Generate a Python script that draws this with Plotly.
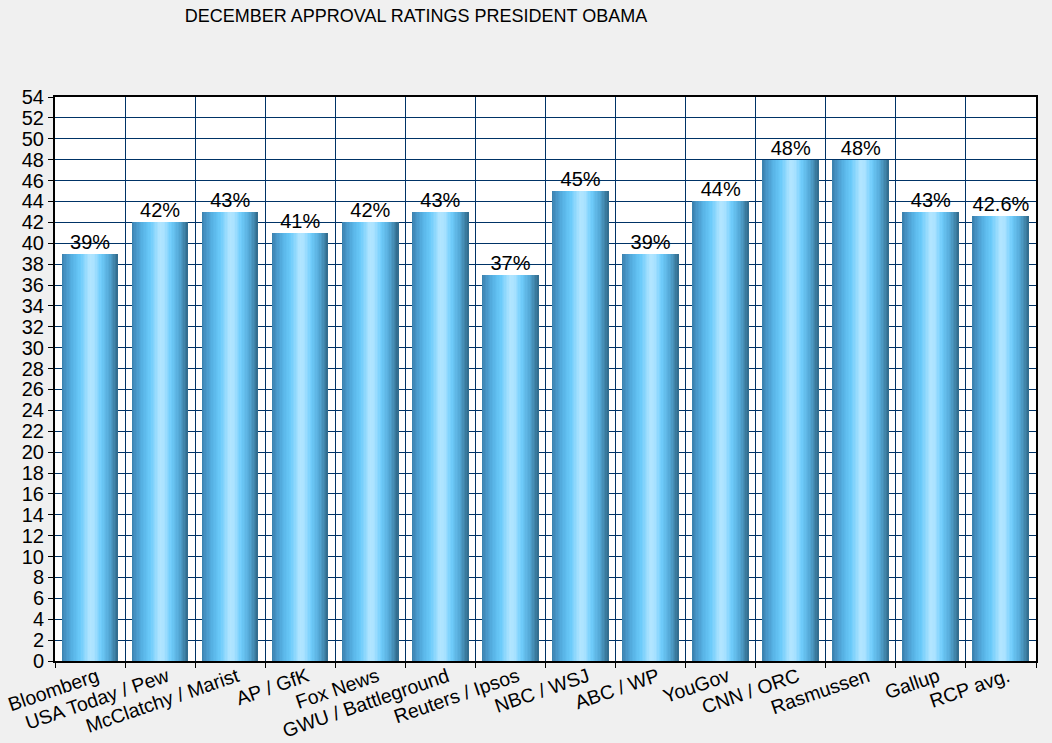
import plotly.graph_objects as go

categories = ["Bloomberg", "USA Today / Pew", "McClatchy / Marist", "AP / GfK", "Fox News",
              "GWU / Battleground", "Reuters / Ipsos", "NBC / WSJ", "ABC / WP", "YouGov",
              "CNN / ORC", "Rasmussen", "Gallup", "RCP avg."]
approval = [39, 42, 43, 41, 42, 43, 37, 45, 39, 44, 48, 48, 43, 42.6]
labels = [f"{v:g}%" for v in approval]
y_ticks = list(range(0, 56, 2))

# horizontal gradient across each bar (left -> right)
grad_stops = [
    (0.00, (58, 128, 172)),
    (0.08, (72, 150, 200)),
    (0.20, (88, 180, 230)),
    (0.33, (106, 202, 250)),
    (0.50, (178, 229, 255)),
    (0.58, (170, 226, 255)),
    (0.70, (112, 205, 252)),
    (0.85, (84, 168, 214)),
    (0.95, (62, 128, 164)),
    (1.00, (48, 104, 138)),
]


def grad_color(t):
    for (t0, c0), (t1, c1) in zip(grad_stops[:-1], grad_stops[1:]):
        if t0 <= t <= t1:
            f = 0 if t1 == t0 else (t - t0) / (t1 - t0)
            c = [round(a + (b - a) * f) for a, b in zip(c0, c1)]
            return f"rgb({c[0]},{c[1]},{c[2]})"
    c = grad_stops[-1][1]
    return f"rgb({c[0]},{c[1]},{c[2]})"


fig = go.Figure()
bar_w = 0.8
n_strips = 40
sw = bar_w / n_strips
for i in range(n_strips):
    t = (i + 0.5) / n_strips
    fig.add_trace(go.Bar(
        x=categories, y=approval,
        width=sw * 1.15, offset=-bar_w / 2 + i * sw,
        marker=dict(color=grad_color(t), line=dict(width=0)),
        hoverinfo="skip", showlegend=False,
    ))

fig.add_trace(go.Scatter(
    x=categories, y=approval, text=labels, mode="text",
    textposition="top center",
    textfont=dict(family="Liberation Sans, Arial, sans-serif", size=20, color="black"),
    showlegend=False, hoverinfo="skip", cliponaxis=False,
))

fig.update_layout(
    width=1052, height=743,
    paper_bgcolor="#f0f0f0", plot_bgcolor="white",
    barmode="overlay", bargap=0,
    margin=dict(l=55, r=16, t=97, b=82),
    font=dict(family="Liberation Sans, Arial, sans-serif", size=20, color="black"),
    title=dict(
        text="DECEMBER APPROVAL RATINGS PRESIDENT OBAMA",
        font=dict(family="Liberation Sans, Arial, sans-serif", size=18, color="black"),
        x=416 / 1052, xref="container", xanchor="center",
        y=1 - 16 / 743, yref="container", yanchor="middle",
    ),
    xaxis=dict(
        type="category", tickson="boundaries", showgrid=True,
        range=[-0.5, len(categories) - 0.5],
        gridcolor="#003366", gridwidth=1, automargin=False,
        ticks="outside", ticklen=5, tickcolor="black", tickwidth=1,
        ticklabelstandoff=-5, ticklabelshift=7,
        tickangle=-19, showline=True, linecolor="black", linewidth=2, mirror=True,
        tickfont=dict(size=19.5),
    ),
    yaxis=dict(
        range=[0, 54], tickvals=y_ticks, showgrid=True, automargin=False,
        gridcolor="#003366", gridwidth=1, zeroline=False,
        ticks="outside", ticklen=5, tickcolor="black",
        showline=True, linecolor="black", linewidth=2, mirror=True,
        tickfont=dict(size=20),
    ),
)

fig.write_html("out.html", config={"displayModeBar": False})

# remove the default page margin so the figure fills the window exactly
with open("out.html", "r", encoding="utf-8") as fh:
    html = fh.read()
html = html.replace("<body>", '<body style="margin:0;padding:0;overflow:hidden;background:#f0f0f0">', 1)
with open("out.html", "w", encoding="utf-8") as fh:
    fh.write(html)
